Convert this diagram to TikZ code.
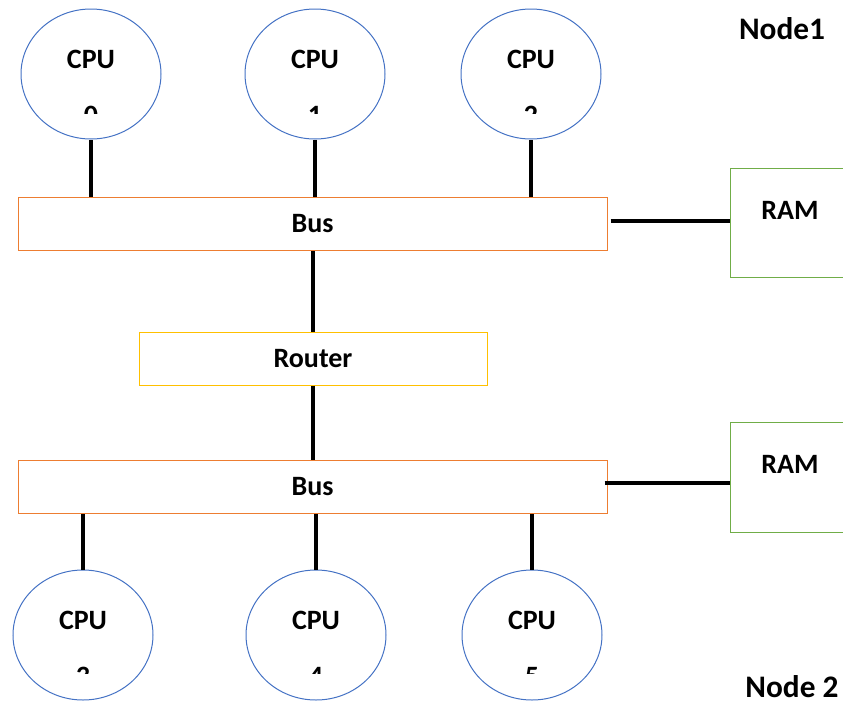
\documentclass[tikz,border=0pt]{standalone}
\usepackage{fontspec}
\setmainfont{Carlito}
\usetikzlibrary{positioning, shapes.geometric}

\definecolor{cpublue}{HTML}{4472C4}
\definecolor{busorange}{HTML}{ED7D31}
\definecolor{ramgreen}{HTML}{70AD47}
\definecolor{routeryellow}{HTML}{FFC000}

\tikzset{
  lbl/.style={font=\fontsize{21}{25}\selectfont\bfseries, inner sep=0pt},
  biglbl/.style={font=\fontsize{23.5}{28}\selectfont\bfseries, inner sep=0pt},
  cpu/.style={ellipse, draw=cpublue, line width=0.75pt, minimum width=105pt, minimum height=97.5pt, inner sep=0pt},
  bus/.style={rectangle, draw=busorange, line width=0.75pt, minimum width=441.75pt, minimum height=40pt, lbl},
  ram/.style={rectangle, draw=ramgreen, line width=0.75pt, minimum width=90pt, minimum height=82pt, lbl, text depth=19pt},
  router/.style={rectangle, draw=routeryellow, line width=0.75pt, minimum width=261pt, minimum height=39.75pt, lbl},
  wire/.style={line width=3pt, black}
}

\begin{document}
\begin{tikzpicture}[x=0.75pt, y=-0.75pt]
    \clip (0,0) rectangle (843,704);
    \useasboundingbox (0,0) rectangle (843,704);

    % Buses, router and memories
    \node[bus] (bus1) at (312.5,224) {Bus};
    \node[bus] (bus2) at (312.5,487) {Bus};
    \node[router] (router) at (313,358.5) {Router};
    \node[ram] (ram1) at (790,223) {RAM};
    \node[ram] (ram2) at (790,477.5) {RAM};

    % CPUs of both nodes
    \foreach \i/\x/\y in {0/91/74, 1/315/74, 2/531/74, 3/83/635, 4/316/635, 5/532/635} {
      \node[cpu] (cpu\i) at (\x,\y) {};
    }
    \foreach \i/\x in {0/91, 1/315, 2/531} {
      \node[lbl, anchor=base] at (\x,68) {CPU};
    }
    \foreach \i/\x in {3/83, 4/316, 5/532} {
      \node[lbl, anchor=base] at (\x,629) {CPU};
    }

    % CPU numbers, cut off as in the slide
    \begin{scope}
      \clip (0,0) rectangle (843,113);
      \foreach \i/\x in {0/91, 1/315, 2/531} {
        \node[lbl, anchor=base] at (\x,124) {\i};
      }
    \end{scope}
    \begin{scope}
      \clip (0,600) rectangle (843,673);
      \foreach \i/\x in {3/83, 4/316, 5/532} {
        \node[lbl, anchor=base] at (\x,685) {\i};
      }
    \end{scope}

    % Connections
    \foreach \i in {0,1,2} {
      \draw[wire] (cpu\i.south) -- (cpu\i.south |- bus1.north);
    }
    \foreach \i in {3,4,5} {
      \draw[wire] (cpu\i.north |- bus2.south) -- (cpu\i.north);
    }
    \draw[wire] ([xshift=2.25pt, yshift=2.25pt]bus1.east) -- ([yshift=2.25pt]bus1.east -| ram1.west);
    \draw[wire] ([xshift=-2.25pt, yshift=3pt]bus2.east) -- ([yshift=3pt]bus2.east -| ram2.west);
    \draw[wire] (bus1.south -| router.north) -- (router.north);
    \draw[wire] (router.south) -- (router.south |- bus2.north);

    % Node names
    \node[biglbl, anchor=base] (node1) at (782,39) {Node1};
    \node[biglbl, anchor=base] (node2) at (792,697) {Node 2};

\end{tikzpicture}
\end{document}
